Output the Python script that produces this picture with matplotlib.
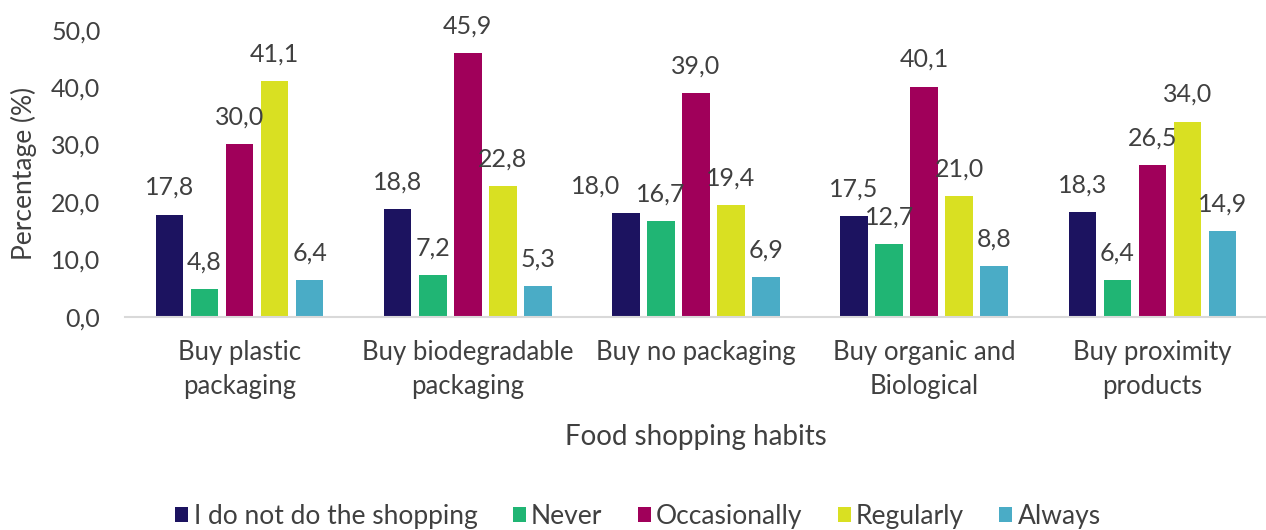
import numpy as np
import matplotlib.pyplot as plt

plt.rcParams['font.family'] = ['Lato', 'DejaVu Sans']

# Survey results (%)
categories = ['Buy plastic\npackaging', 'Buy biodegradable\npackaging', 'Buy no packaging',
              'Buy organic and\nBiological', 'Buy proximity\nproducts']
series_names = ['I do not do the shopping', 'Never', 'Occasionally', 'Regularly', 'Always']
no_shopping = [17.8, 18.8, 18.0, 17.5, 18.3]
never = [4.8, 7.2, 16.7, 12.7, 6.4]
occasionally = [30.0, 45.9, 39.0, 40.1, 26.5]
regularly = [41.1, 22.8, 19.4, 21.0, 34.0]
always = [6.4, 5.3, 6.9, 8.8, 14.9]

colors = ['#1c1360', '#20b574', '#a0005a', '#d9e022', '#4aacc6']
text_color = '#404040'

fig = plt.figure(figsize=(12.66, 5.3), dpi=100)
ax = fig.add_axes([0.0991, 0.4025, 0.9013, 0.5415])

x = np.arange(len(categories))
step = 0.1535
width = 0.1207
all_series = [no_shopping, never, occasionally, regularly, always]
for i, (name, vals) in enumerate(zip(series_names, all_series)):
    pos = x + (i - 2) * step
    bars = ax.bar(pos, vals, width, color=colors[i], label=name)
    for j, (b, v) in enumerate(zip(bars, vals)):
        # nudge the "no packaging" first label left so it clears its neighbour
        dx = -22 if (i == 0 and j == 2) else 0
        ax.annotate(f'{v:.1f}'.replace('.', ','), (b.get_x() + b.get_width() / 2, v),
                    xytext=(dx, 14), textcoords='offset points', ha='center', va='baseline',
                    fontsize=18, color=text_color)

ax.set_xlim(-0.5, len(categories) - 0.5)
ax.set_ylim(0, 50)
ticks = np.arange(0, 51, 10)
ax.set_yticks(ticks)
ax.set_yticklabels([f'{t:.1f}'.replace('.', ',') for t in ticks])
ax.set_xticks(x)
ax.set_xticklabels(categories, linespacing=1.45)
ax.tick_params(axis='y', length=0, labelsize=18, labelcolor=text_color, pad=18)
ax.tick_params(axis='x', length=0, labelsize=18.5, labelcolor=text_color, pad=17)
for s in ['top', 'right', 'left']:
    ax.spines[s].set_visible(False)
ax.spines['bottom'].set_color('#d9d9d9')
ax.spines['bottom'].set_linewidth(1.5)

ax.set_ylabel('Percentage (%)', fontsize=19, color=text_color, labelpad=10)
ax.set_xlabel('Food shopping habits', fontsize=20, color=text_color, labelpad=18)

fig.legend(loc='center', bbox_to_anchor=(0.504, 0.026), ncol=5, frameon=False,
           fontsize=19, handlelength=0.5, handleheight=0.5, handletextpad=0.2,
           columnspacing=1.33, labelcolor=text_color, borderpad=0)

fig.savefig('out.png', dpi=100)
